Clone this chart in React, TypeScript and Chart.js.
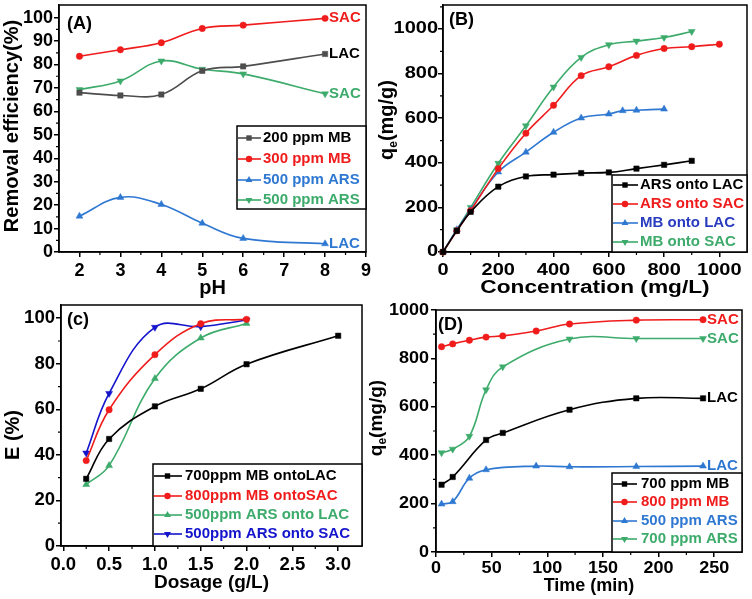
import React, { useEffect, useRef } from 'react';
import { Chart, registerables } from 'chart.js';
Chart.register(...registerables);

const FONT = "'Liberation Sans', Arial, Helvetica, sans-serif";

// ---------- Panel A : effect of pH ----------
const A_PH = [2, 3, 4, 5, 6, 8];
const A_MB200 = [68, 66.8, 67.2, 77.3, 79.2, 84.5];
const A_MB300 = [83.5, 86.3, 89.3, 95.4, 96.8, 99.7];
const A_ARS500_LAC = [15.3, 23.3, 20.3, 12.3, 5.8, 3.5];
const A_ARS500_SAC = [69.3, 73, 81.5, 78, 76, 67.5];
const A_X_TICKS = [2, 3, 4, 5, 6, 7, 8, 9];
const A_Y_TICKS = [0, 10, 20, 30, 40, 50, 60, 70, 80, 90, 100];

// ---------- Panel B : effect of concentration ----------
const B_X_ARS_LAC = [0, 50, 100, 200, 300, 400, 500, 600, 700, 800, 900];
const B_ARS_LAC = [0, 95, 180, 293, 339, 347, 354, 357, 374, 391, 409];
const B_X_ARS_SAC = [0, 50, 100, 200, 300, 400, 500, 600, 700, 800, 900, 1000];
const B_ARS_SAC = [0, 95, 185, 374, 533, 658, 791, 831, 882, 913, 921, 932];
const B_X_MB_LAC = [0, 50, 100, 200, 300, 400, 500, 600, 650, 700, 800];
const B_MB_LAC = [0, 100, 190, 359, 448, 537, 601, 619, 634, 636, 641];
const B_X_MB_SAC = [0, 50, 100, 200, 300, 400, 500, 600, 700, 800, 900];
const B_MB_SAC = [0, 100, 200, 398, 566, 740, 873, 930, 946, 962, 989];
const B_X_TICKS = [0, 200, 400, 600, 800, 1000];
const B_Y_TICKS = [0, 200, 400, 600, 800, 1000];

// ---------- Panel C : effect of dosage ----------
const C_X_MB_LAC = [0.25, 0.5, 1.0, 1.5, 2.0, 3.0];
const C_MB_LAC = [29.5, 47, 61.3, 69, 79.8, 92.3];
const C_X_SAC = [0.25, 0.5, 1.0, 1.5, 2.0];
const C_MB_SAC = [37.5, 59.8, 84, 97.6, 99.5];
const C_ARS_LAC = [27, 35.3, 73.5, 91.3, 97.7];
const C_ARS_SAC = [40.8, 67, 96, 96.3, 99.2];
const C_X_TICKS = [0, 0.5, 1.0, 1.5, 2.0, 2.5, 3.0];
const C_Y_TICKS = [0, 20, 40, 60, 80, 100];

// ---------- Panel D : effect of time ----------
const D_X_MB700 = [5, 15, 45, 60, 120, 180, 240];
const D_MB700 = [278, 310, 463, 492, 588, 635, 635];
const D_X_MB800 = [5, 15, 30, 45, 60, 90, 120, 180, 240];
const D_MB800 = [848, 860, 875, 888, 893, 913, 942, 958, 960];
const D_X_ARS500 = [5, 15, 30, 45, 90, 120, 180, 240];
const D_ARS500 = [198, 208, 305, 340, 355, 352, 353, 355];
const D_X_ARS700 = [5, 15, 30, 45, 60, 120, 180, 240];
const D_ARS700 = [410, 425, 478, 670, 765, 880, 882, 882];
const D_X_TICKS = [0, 50, 100, 150, 200, 250];
const D_Y_TICKS = [0, 200, 400, 600, 800, 1000];

const BLACK = '#000000';
const GREY = '#4d4d4d';
const RED = '#f01c1c';
const BLUE = '#2f78d2';
const BLUE_TXT_B = '#2a3cbf';
const GREEN = '#3dab6b';
const DEEP_BLUE = '#1414cc';

type Style = 'rect' | 'circle' | 'triangle' | 'down';
type Series = { label: string; xs: number[]; ys: number[]; color: string; text?: string; style: Style; end?: string };
type Seg = { t: string; sub?: boolean };
type Spec = {
  left: number; top: number; w: number; h: number;
  area: { l: number; t: number; r: number; b: number };
  xMin: number; xMax: number; yMin: number; yMax: number;
  xTicks: number[]; yTicks: number[]; xMinor: number; yMinor: number;
  xFmt?: (v: number) => string;
  tickFont: number; tickStretch: number; xLabelBase: number; yLabelGap: number;
  titleFont: number; titleStretch: number;
  xTitle: string; xTitleY: number;
  yTitle: Seg[]; yTitleFont: number; yTitleX: number; yTitleY: number;
  tag: string; tagX: number; tagY: number;
  endFont: number;
  series: Series[];
  legend: { x: number; y: number; w: number; h: number; rows: number[]; l0: number; l1: number; tx: number; font: number };
};

const SPECS: Spec[] = [
  {
    left: 0, top: 0, w: 376, h: 300,
    area: { l: 59, t: 5, r: 366, b: 252 },
    xMin: 1.5, xMax: 9, yMin: 0, yMax: 105.4,
    xTicks: A_X_TICKS, yTicks: A_Y_TICKS, xMinor: 0.5, yMinor: 5,
    tickFont: 18, tickStretch: 1.0, xLabelBase: 24, yLabelGap: 6,
    titleFont: 20, titleStretch: 1.0,
    xTitle: 'pH', xTitleY: 288,
    yTitle: [{ t: 'Removal efficiency(%)' }], yTitleFont: 20, yTitleX: 12, yTitleY: 126,
    tag: '(A)', tagX: 67, tagY: 24, endFont: 15,
    series: [
      { label: '200 ppm MB', xs: A_PH, ys: A_MB200, color: GREY, text: BLACK, style: 'rect', end: 'LAC' },
      { label: '300 ppm MB', xs: A_PH, ys: A_MB300, color: RED, style: 'circle', end: 'SAC' },
      { label: '500 ppm ARS', xs: A_PH, ys: A_ARS500_LAC, color: BLUE, style: 'triangle', end: 'LAC' },
      { label: '500 ppm ARS', xs: A_PH, ys: A_ARS500_SAC, color: GREEN, style: 'down', end: 'SAC' },
    ],
    legend: { x: 237, y: 126, w: 129, h: 83, rows: [138, 159, 180, 200], l0: 237, l1: 261, tx: 263, font: 15 },
  },
  {
    left: 376, top: 0, w: 376, h: 300,
    area: { l: 67, t: 5, r: 371, b: 252 },
    xMin: 0, xMax: 1100, yMin: 0, yMax: 1108,
    xTicks: B_X_TICKS, yTicks: B_Y_TICKS, xMinor: 100, yMinor: 100,
    tickFont: 16, tickStretch: 1.25, xLabelBase: 23, yLabelGap: 5,
    titleFont: 18, titleStretch: 1.26,
    xTitle: 'Concentration (mg/L)', xTitleY: 288,
    yTitle: [{ t: 'q' }, { t: 'e', sub: true }, { t: '(mg/g)' }], yTitleFont: 20, yTitleX: 11, yTitleY: 120,
    tag: '(B)', tagX: 73, tagY: 20, endFont: 15,
    series: [
      { label: 'ARS onto LAC', xs: B_X_ARS_LAC, ys: B_ARS_LAC, color: BLACK, style: 'rect' },
      { label: 'ARS onto SAC', xs: B_X_ARS_SAC, ys: B_ARS_SAC, color: RED, style: 'circle' },
      { label: 'MB onto LAC', xs: B_X_MB_LAC, ys: B_MB_LAC, color: BLUE, text: BLUE_TXT_B, style: 'triangle' },
      { label: 'MB onto SAC', xs: B_X_MB_SAC, ys: B_MB_SAC, color: GREEN, style: 'down' },
    ],
    legend: { x: 236, y: 175, w: 135, h: 77, rows: [185, 204, 223, 242], l0: 236, l1: 262, tx: 264, font: 15 },
  },
  {
    left: 0, top: 300, w: 376, h: 299,
    area: { l: 61, t: 5, r: 362, b: 246 },
    xMin: -0.025, xMax: 3.26, yMin: 0, yMax: 105.8,
    xTicks: C_X_TICKS, yTicks: C_Y_TICKS, xMinor: 0.25, yMinor: 10,
    xFmt: (v: number) => v.toFixed(1),
    tickFont: 18, tickStretch: 1.03, xLabelBase: 24, yLabelGap: 6,
    titleFont: 19, titleStretch: 1.0,
    xTitle: 'Dosage (g/L)', xTitleY: 283,
    yTitle: [{ t: 'E (%)' }], yTitleFont: 20, yTitleX: 13, yTitleY: 135,
    tag: '(c)', tagX: 67, tagY: 20, endFont: 15,
    series: [
      { label: '700ppm MB ontoLAC', xs: C_X_MB_LAC, ys: C_MB_LAC, color: BLACK, style: 'rect' },
      { label: '800ppm MB ontoSAC', xs: C_X_SAC, ys: C_MB_SAC, color: RED, style: 'circle' },
      { label: '500ppm ARS onto LAC', xs: C_X_SAC, ys: C_ARS_LAC, color: GREEN, style: 'triangle' },
      { label: '500ppm ARS onto SAC', xs: C_X_SAC, ys: C_ARS_SAC, color: DEEP_BLUE, style: 'down' },
    ],
    legend: { x: 153, y: 164, w: 209, h: 82, rows: [176, 196, 215, 234], l0: 153, l1: 182, tx: 185, font: 15 },
  },
  {
    left: 360, top: 300, w: 392, h: 299,
    area: { l: 76, t: 10, r: 382, b: 252 },
    xMin: 0, xMax: 275, yMin: 0, yMax: 1000,
    xTicks: D_X_TICKS, yTicks: D_Y_TICKS, xMinor: 25, yMinor: 100,
    tickFont: 17, tickStretch: 1.06, xLabelBase: 21, yLabelGap: 7,
    titleFont: 18, titleStretch: 1.0,
    xTitle: 'Time (min)', xTitleY: 286,
    yTitle: [{ t: 'q' }, { t: 'e', sub: true }, { t: '(mg/g)' }], yTitleFont: 19, yTitleX: 17, yTitleY: 118,
    tag: '(D)', tagX: 78, tagY: 25, endFont: 15,
    series: [
      { label: '700 ppm MB', xs: D_X_MB700, ys: D_MB700, color: BLACK, style: 'rect', end: 'LAC' },
      { label: '800 ppm MB', xs: D_X_MB800, ys: D_MB800, color: RED, style: 'circle', end: 'SAC' },
      { label: '500 ppm ARS', xs: D_X_ARS500, ys: D_ARS500, color: BLUE, style: 'triangle', end: 'LAC' },
      { label: '700 ppm ARS', xs: D_X_ARS700, ys: D_ARS700, color: GREEN, style: 'down', end: 'SAC' },
    ],
    legend: { x: 252, y: 173, w: 130, h: 79, rows: [184, 202, 221, 239], l0: 252, l1: 277, tx: 281, font: 15 },
  },
];

function drawMarker(ctx: CanvasRenderingContext2D, style: Style, x: number, y: number, r: number, color: string) {
  ctx.fillStyle = color;
  ctx.beginPath();
  if (style === 'rect') {
    const s = r * Math.SQRT1_2;
    ctx.rect(x - s, y - s, 2 * s, 2 * s);
  } else if (style === 'circle') {
    ctx.arc(x, y, r, 0, Math.PI * 2);
  } else {
    const base = style === 'down' ? Math.PI : 0;
    for (let k = 0; k < 3; k++) {
      const a = base + (k * 2 * Math.PI) / 3;
      const px = x + Math.sin(a) * r;
      const py = y - Math.cos(a) * r;
      if (k === 0) ctx.moveTo(px, py); else ctx.lineTo(px, py);
    }
    ctx.closePath();
  }
  ctx.fill();
}

const pointRadius = (s: Style) => (s === 'circle' ? 3.2 : s === 'rect' ? 3.8 : 4);

function stretchedText(ctx: CanvasRenderingContext2D, text: string, x: number, y: number, sx: number) {
  ctx.save();
  ctx.translate(x, y);
  ctx.scale(sx, 1);
  ctx.fillText(text, 0, 0);
  ctx.restore();
}

function decor(p: Spec) {
  return {
    id: 'decor' + p.tag,
    afterDraw(chart: any) {
      const ctx: CanvasRenderingContext2D = chart.ctx;
      const a = chart.chartArea;
      const xs = chart.scales.x;
      const ys = chart.scales.y;
      ctx.save();
      // frame
      ctx.strokeStyle = '#000';
      ctx.lineWidth = 1.5;
      ctx.strokeRect(a.left, a.top, a.right - a.left, a.bottom - a.top);
      // minor ticks
      ctx.lineWidth = 1.2;
      ctx.beginPath();
      const isMajor = (list: number[], v: number) => list.some((t) => Math.abs(t - v) < 1e-6);
      for (let k = Math.ceil(p.xMin / p.xMinor); k * p.xMinor <= p.xMax + 1e-9; k++) {
        const v = k * p.xMinor;
        if (isMajor(p.xTicks, v)) continue;
        const px = xs.getPixelForValue(v);
        if (px <= a.left + 1 || px >= a.right - 1) continue;
        ctx.moveTo(px, a.bottom);
        ctx.lineTo(px, a.bottom + 3);
      }
      for (let k = Math.ceil(p.yMin / p.yMinor); k * p.yMinor <= p.yMax + 1e-9; k++) {
        const v = k * p.yMinor;
        if (isMajor(p.yTicks, v)) continue;
        const py = ys.getPixelForValue(v);
        if (py <= a.top + 1 || py >= a.bottom - 1) continue;
        ctx.moveTo(a.left, py);
        ctx.lineTo(a.left - 3, py);
      }
      ctx.stroke();

      // tick labels (positions from the chart's scales)
      ctx.fillStyle = '#000';
      ctx.font = `bold ${p.tickFont}px ${FONT}`;
      ctx.textAlign = 'center';
      ctx.textBaseline = 'alphabetic';
      xs.ticks.forEach((t: any) => {
        const v = Number(t.value);
        const label = p.xFmt ? p.xFmt(v) : String(v);
        stretchedText(ctx, label, xs.getPixelForValue(v), a.bottom + p.xLabelBase, p.tickStretch);
      });
      ctx.textAlign = 'right';
      ctx.textBaseline = 'middle';
      ys.ticks.forEach((t: any) => {
        const v = Number(t.value);
        stretchedText(ctx, String(v), a.left - p.yLabelGap, ys.getPixelForValue(v), p.tickStretch);
      });

      // x title
      ctx.textAlign = 'center';
      ctx.textBaseline = 'middle';
      ctx.font = `bold ${p.titleFont}px ${FONT}`;
      stretchedText(ctx, p.xTitle, (a.left + a.right) / 2, p.xTitleY, p.titleStretch);

      // y title (with optional subscript)
      const subSize = Math.round(p.yTitleFont * 0.62);
      let total = 0;
      const widths = p.yTitle.map((s) => {
        ctx.font = `bold ${s.sub ? subSize : p.yTitleFont}px ${FONT}`;
        const w = ctx.measureText(s.t).width;
        total += w;
        return w;
      });
      ctx.save();
      ctx.translate(p.yTitleX, p.yTitleY);
      ctx.rotate(-Math.PI / 2);
      ctx.textAlign = 'left';
      let cx = -total / 2;
      p.yTitle.forEach((s, i) => {
        ctx.font = `bold ${s.sub ? subSize : p.yTitleFont}px ${FONT}`;
        ctx.fillText(s.t, cx, s.sub ? p.yTitleFont * 0.32 : 0);
        cx += widths[i];
      });
      ctx.restore();

      // panel tag
      ctx.textAlign = 'left';
      ctx.font = `bold 18px ${FONT}`;
      ctx.fillStyle = '#000';
      ctx.fillText(p.tag, p.tagX, p.tagY);

      // end labels
      ctx.font = `bold ${p.endFont}px ${FONT}`;
      p.series.forEach((s, i) => {
        if (!s.end) return;
        const meta = chart.getDatasetMeta(i);
        const el = meta.data[meta.data.length - 1];
        ctx.fillStyle = s.text || s.color;
        ctx.fillText(s.end, el.x + 4, el.y);
      });

      // legend
      const L = p.legend;
      ctx.fillStyle = '#fff';
      ctx.fillRect(L.x, L.y, L.w, L.h);
      ctx.strokeStyle = '#000';
      ctx.lineWidth = 1.5;
      ctx.strokeRect(L.x, L.y, L.w, L.h);
      ctx.font = `bold ${L.font}px ${FONT}`;
      p.series.forEach((s, i) => {
        const y = L.rows[i];
        ctx.strokeStyle = s.color;
        ctx.lineWidth = 1.6;
        ctx.beginPath();
        ctx.moveTo(L.l0 + 1, y);
        ctx.lineTo(L.l1, y);
        ctx.stroke();
        drawMarker(ctx, s.style, (L.l0 + L.l1) / 2, y, pointRadius(s.style), s.color);
        ctx.fillStyle = s.text || s.color;
        ctx.fillText(s.label, L.tx, y);
      });
      ctx.restore();
    },
  };
}

function buildConfig(p: Spec): any {
  const grid = { drawOnChartArea: false, drawTicks: true, tickLength: 5, color: '#000', lineWidth: 1.5 };
  const border = { display: true, color: '#000', width: 1.5 };
  return {
    type: 'line',
    data: {
      datasets: p.series.map((s) => ({
        label: s.label,
        data: s.xs.map((x, i) => ({ x, y: s.ys[i] })),
        borderColor: s.color,
        backgroundColor: s.color,
        pointBackgroundColor: s.color,
        pointBorderColor: s.color,
        pointStyle: s.style === 'down' ? 'triangle' : s.style,
        pointRotation: s.style === 'down' ? 180 : 0,
        pointRadius: pointRadius(s.style),
        pointBorderWidth: 0.5,
        borderWidth: 1.6,
        tension: 0.4,
        fill: false,
        clip: false,
      })),
    },
    options: {
      responsive: false,
      maintainAspectRatio: false,
      animation: false,
      events: [],
      layout: { padding: { left: 0, top: p.area.t, right: p.w - p.area.r, bottom: 0 } },
      plugins: { legend: { display: false }, tooltip: { enabled: false } },
      scales: {
        x: {
          type: 'linear',
          min: p.xMin,
          max: p.xMax,
          afterBuildTicks: (sc: any) => { sc.ticks = p.xTicks.map((v) => ({ value: v })); },
          afterFit: (sc: any) => { sc.height = p.h - p.area.b; sc.paddingLeft = 0; sc.paddingRight = 0; },
          ticks: { display: false },
          grid, border,
        },
        y: {
          type: 'linear',
          min: p.yMin,
          max: p.yMax,
          afterBuildTicks: (sc: any) => { sc.ticks = p.yTicks.map((v) => ({ value: v })); },
          afterFit: (sc: any) => { sc.width = p.area.l; sc.paddingTop = 0; sc.paddingBottom = 0; },
          ticks: { display: false },
          grid, border,
        },
      },
    },
    plugins: [decor(p)],
  };
}

function Panel({ spec }: { spec: Spec }) {
  const ref = useRef<HTMLCanvasElement | null>(null);
  useEffect(() => {
    if (!ref.current) return;
    const chart = new Chart(ref.current, buildConfig(spec));
    return () => chart.destroy();
  }, [spec]);
  return (
    <canvas
      ref={ref}
      width={spec.w}
      height={spec.h}
      style={{ position: 'absolute', left: spec.left, top: spec.top, width: spec.w, height: spec.h, display: 'block' }}
    />
  );
}

export default function App() {
  return (
    <div style={{ position: 'absolute', left: 0, top: 0, width: 752, height: 599, background: '#fff', overflow: 'hidden' }}>
      {SPECS.map((s, i) => (
        <Panel key={i} spec={s} />
      ))}
    </div>
  );
}
